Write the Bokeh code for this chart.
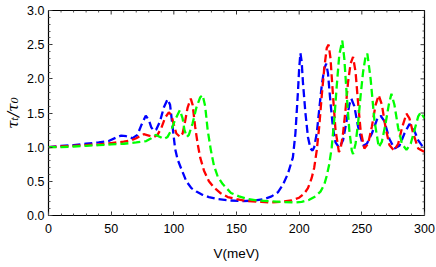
from bokeh.plotting import figure
from bokeh.models import FixedTicker, Range1d
from bokeh.embed import file_html
from bokeh.resources import INLINE

# ---- data ----
V_blue = [0, 10, 20, 30, 40, 48, 54, 58, 62, 67, 71, 74, 77.6, 80, 82, 84, 86, 89, 92, 95, 97, 99,
          101, 103, 106, 110, 114, 118, 122, 128, 135, 145, 155, 165, 172, 178, 183, 187, 191, 195,
          197, 199, 200, 201, 202, 203, 205, 207, 209, 210.7, 212, 214, 216, 218, 220, 221.6, 223,
          225, 227, 229, 232, 235, 238, 240, 241.6, 244, 247, 251, 254, 258, 262, 265, 268, 272,
          276, 280, 284, 288, 291, 295, 300]
tau_blue = [1.00, 1.02, 1.03, 1.05, 1.07, 1.09, 1.14, 1.17, 1.16, 1.13, 1.18, 1.32, 1.46, 1.40, 1.29,
            1.24, 1.26, 1.38, 1.58, 1.70, 1.62, 1.30, 0.98, 0.82, 0.68, 0.50, 0.40, 0.35, 0.31, 0.27,
            0.24, 0.22, 0.21, 0.22, 0.24, 0.28, 0.34, 0.45, 0.61, 0.85, 1.20, 1.80, 2.15, 2.375,
            2.25, 1.95, 1.50, 1.15, 0.98, 0.95, 1.00, 1.20, 1.55, 1.90, 2.15, 2.22, 2.08, 1.65, 1.28,
            1.07, 0.99, 1.10, 1.40, 1.62, 1.71, 1.60, 1.30, 1.02, 1.05, 1.20, 1.40, 1.46, 1.38,
            1.12, 0.98, 1.02, 1.20, 1.34, 1.28, 1.10, 0.97]

V_red = [0, 10, 20, 30, 40, 50, 60, 66, 70, 76, 80, 84, 87, 90, 93, 96, 98, 100, 102, 105, 107, 109,
         111, 113.5, 115, 117, 119, 121, 124, 128, 132, 137, 143, 150, 159, 170, 178, 186, 194, 200,
         204, 207, 210, 212, 214, 216, 218, 220, 222, 223.5, 225, 227, 229, 231.7, 233, 235, 237,
         239, 241, 243, 245, 247, 249, 252, 255, 258, 261, 263.5, 266, 269, 272, 275.7, 279, 282,
         285.6, 288, 291, 295, 300]
tau_red = [1.00, 1.01, 1.02, 1.03, 1.04, 1.06, 1.08, 1.10, 1.13, 1.19, 1.17, 1.15, 1.18, 1.28, 1.43,
           1.51, 1.47, 1.33, 1.20, 1.15, 1.20, 1.38, 1.58, 1.71, 1.62, 1.30, 1.05, 0.85, 0.66, 0.50,
           0.41, 0.33, 0.27, 0.24, 0.21, 0.20, 0.19, 0.20, 0.22, 0.26, 0.32, 0.40, 0.55, 0.70, 0.95,
           1.30, 1.75, 2.15, 2.45, 2.50, 2.30, 1.75, 1.25, 0.93, 0.97, 1.20, 1.55, 1.95, 2.22, 2.32,
           2.10, 1.65, 1.25, 0.98, 1.05, 1.30, 1.62, 1.76, 1.62, 1.28, 1.03, 0.95, 1.05, 1.28, 1.49,
           1.42, 1.20, 0.98, 0.93]

V_green = [0, 10, 20, 30, 40, 50, 60, 70, 78, 82, 85.6, 89, 92, 95, 98, 101, 104.8, 107, 108.5, 110.4,
           112, 115, 118, 121, 123, 125, 127, 129.6, 132, 135, 139, 145.6, 152, 159, 167, 175, 185,
           196, 202, 208, 213, 217, 220, 222, 224, 226, 228, 230, 232, 234.4, 236, 238, 240, 242,
           243, 245, 247, 249, 251, 253, 254.4, 257, 260, 263.5, 266, 269, 271.5, 273.6, 276, 279,
           282, 285.6, 289, 292, 295, 297, 300]
tau_green = [1.00, 1.00, 1.01, 1.02, 1.03, 1.04, 1.05, 1.07, 1.09, 1.13, 1.18, 1.15, 1.12, 1.15, 1.25,
             1.40, 1.54, 1.42, 1.25, 1.15, 1.18, 1.35, 1.58, 1.73, 1.76, 1.60, 1.25, 0.95, 0.73,
             0.57, 0.46, 0.33, 0.28, 0.24, 0.22, 0.21, 0.20, 0.19, 0.20, 0.23, 0.28, 0.35, 0.45,
             0.58, 0.75, 1.00, 1.40, 1.90, 2.35, 2.56, 2.30, 1.75, 1.25, 0.95, 0.90, 1.05, 1.35,
             1.75, 2.10, 2.33, 2.37, 2.00, 1.40, 1.00, 1.08, 1.35, 1.62, 1.78, 1.62, 1.28, 1.05,
             0.96, 1.05, 1.25, 1.45, 1.51, 1.42]

x_ticks = [0, 50, 100, 150, 200, 250, 300]
y_ticks = [0.0, 0.5, 1.0, 1.5, 2.0, 2.5, 3.0]
x_minor = list(range(0, 301, 10))
y_minor = [i / 10 for i in range(0, 31)]
x_label = "V(meV)"
y_label = "τₜ/τ₀"

FONT = "Liberation Sans"
X0, X1, Y0, Y1 = 0, 300, 0.0, 3.0
W, H = 436, 267
BL, BR, BT, BB = 48, 12, 10, 52
FW, FH = W - BL - BR, H - BT - BB

p = figure(width=W, height=H, output_backend="svg", toolbar_location=None,
           x_range=Range1d(X0, X1), y_range=Range1d(Y0, Y1),
           min_border_left=BL, min_border_right=BR, min_border_top=BT, min_border_bottom=BB)
p.grid.visible = False
p.outline_line_color = "black"
p.outline_line_width = 1.2

for xs, ys, col in [(V_blue, tau_blue, "#0000ff"), (V_red, tau_red, "#ff0000"),
                    (V_green, tau_green, "#00ff00")]:
    p.line(xs, ys, line_color=col, line_width=2.3, line_dash="8 4")

xa = p.xaxis[0]
ya = p.yaxis[0]
xa.ticker = FixedTicker(ticks=x_ticks, minor_ticks=x_minor)
ya.ticker = FixedTicker(ticks=y_ticks, minor_ticks=y_minor)
xa.major_label_overrides = {t: str(t) for t in x_ticks}
ya.major_label_overrides = {t: f"{t:.1f}" for t in y_ticks}
for ax in (xa, ya):
    ax.axis_line_color = None
    ax.major_tick_in = 4
    ax.major_tick_out = 0
    ax.minor_tick_in = 2
    ax.minor_tick_out = 0
    ax.major_tick_line_color = "#333333"
    ax.minor_tick_line_color = "#555555"
    ax.major_label_text_font = FONT
    ax.major_label_text_font_size = "12.5px"
    ax.major_label_text_color = "black"
    ax.axis_label_text_font = FONT
    ax.axis_label_text_font_size = "13.5px"
    ax.axis_label_text_font_style = "normal"
    ax.axis_label_text_color = "black"
xa.axis_label = x_label
ya.axis_label = y_label
ya.axis_label_text_font_size = "15px"
ya.axis_label_text_font = "DejaVu Serif"
ya.axis_label_text_font_style = "italic"
xa.major_label_standoff = 8
xa.axis_label_standoff = 10
ya.major_label_standoff = 4
ya.axis_label_standoff = 2

# frame ticks on the top and right edges (inward), derived from the tick lists
dy_major = 4 * (Y1 - Y0) / FH
dy_minor = 2 * (Y1 - Y0) / FH
dx_major = 4 * (X1 - X0) / FW
dx_minor = 2 * (X1 - X0) / FW
xm = [t for t in x_minor if t not in x_ticks]
ym = [t for t in y_minor if round(t, 3) not in [round(v, 3) for v in y_ticks]]
p.segment(x0=x_ticks, y0=[Y1] * len(x_ticks), x1=x_ticks, y1=[Y1 - dy_major] * len(x_ticks),
          line_color="#333333", line_width=1)
p.segment(x0=xm, y0=[Y1] * len(xm), x1=xm, y1=[Y1 - dy_minor] * len(xm),
          line_color="#555555", line_width=1)
p.segment(x0=[X1] * len(y_ticks), y0=y_ticks, x1=[X1 - dx_major] * len(y_ticks), y1=y_ticks,
          line_color="#333333", line_width=1)
p.segment(x0=[X1] * len(ym), y0=ym, x1=[X1 - dx_minor] * len(ym), y1=ym,
          line_color="#555555", line_width=1)

open("out.html", "w").write(file_html(p, INLINE))
